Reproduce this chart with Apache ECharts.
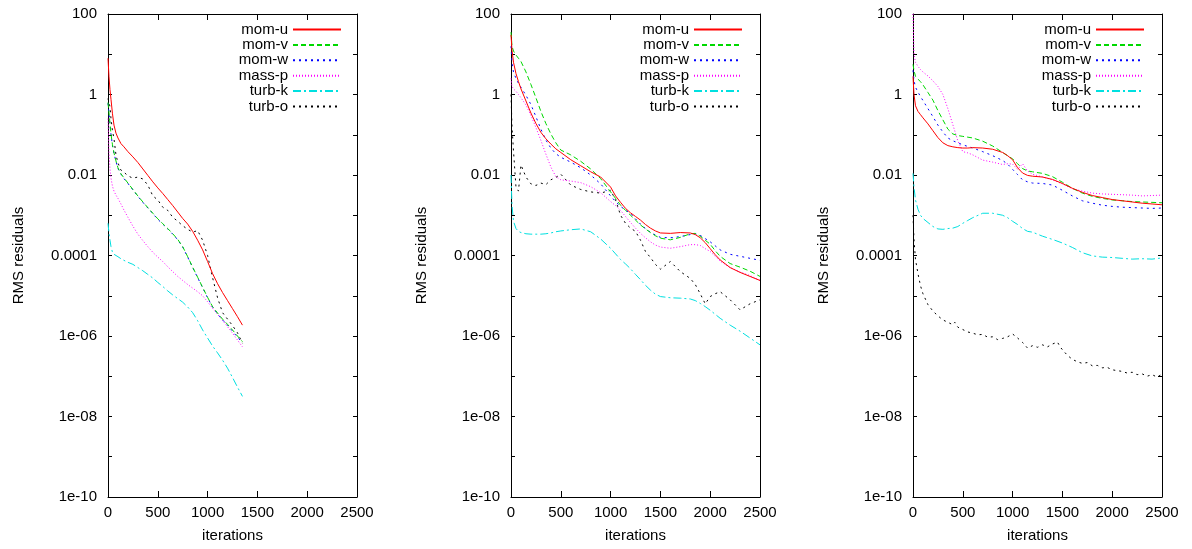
<!DOCTYPE html>
<html>
<head>
<meta charset="utf-8">
<script src="https://cdn.jsdelivr.net/npm/echarts@6/dist/echarts.min.js"></script>
<style>
html,body{margin:0;padding:0;background:#fff;}
#chart{width:1192px;height:549px;}
</style>
</head>
<body>
<div id="chart"></div>
<script>
// ---- DATA (residual values stored as log10 of the RMS residual) ----
const seriesNames = ['mom-u', 'mom-v', 'mom-w', 'mass-p', 'turb-k', 'turb-o'];
const xTicks = [0, 500, 1000, 1500, 2000, 2500];
const yTickExponents = [2, 0, -2, -4, -6, -8, -10];
const yTickLabels = ['100', '1', '0.01', '0.0001', '1e-06', '1e-08', '1e-10'];

// Panel 1
const it1 = [0,10,20,30,45,60,80,100,130,160,200,250,300,350,400,450,500,550,600,650,700,750,800,850,900,950,1000,1050,1100,1150,1200,1250,1300,1350];
const p1_momU  = [0.9,0.44,0.12,-0.12,-0.48,-0.76,-0.96,-1.08,-1.22,-1.30,-1.42,-1.55,-1.69,-1.85,-2.01,-2.17,-2.32,-2.46,-2.61,-2.76,-2.92,-3.08,-3.22,-3.40,-3.62,-3.86,-4.15,-4.45,-4.70,-4.92,-5.12,-5.32,-5.52,-5.73];
const p1_momV  = [-0.2,-0.45,-0.72,-0.98,-1.25,-1.45,-1.65,-1.82,-1.97,-2.07,-2.20,-2.36,-2.52,-2.67,-2.81,-2.95,-3.09,-3.21,-3.33,-3.46,-3.60,-3.78,-4.03,-4.29,-4.54,-4.79,-5.04,-5.27,-5.43,-5.58,-5.71,-5.85,-6.00,-6.14];
const p1_momW  = [-0.22,-0.48,-0.74,-0.99,-1.27,-1.46,-1.66,-1.84,-1.98,-2.09,-2.21,-2.37,-2.53,-2.68,-2.82,-2.96,-3.10,-3.22,-3.34,-3.47,-3.61,-3.79,-4.04,-4.30,-4.55,-4.80,-5.05,-5.28,-5.45,-5.60,-5.73,-5.88,-6.03,-6.17];
const p1_massP = [-0.6,-1.45,-1.85,-2.08,-2.28,-2.40,-2.50,-2.58,-2.72,-2.87,-3.05,-3.27,-3.47,-3.63,-3.78,-3.92,-4.04,-4.15,-4.28,-4.40,-4.52,-4.62,-4.72,-4.81,-4.90,-5.00,-5.15,-5.31,-5.46,-5.61,-5.77,-5.93,-6.10,-6.27];
const p1_turbK = [-3.2,-3.45,-3.62,-3.78,-3.92,-3.97,-4.0,-4.03,-4.08,-4.12,-4.17,-4.22,-4.30,-4.38,-4.47,-4.56,-4.67,-4.77,-4.88,-4.98,-5.07,-5.16,-5.28,-5.42,-5.62,-5.85,-6.05,-6.25,-6.42,-6.60,-6.80,-7.03,-7.27,-7.50];
const p1_turbO = [-0.1,-0.2,-0.3,-0.6,-0.9,-1.1,-1.5,-1.7,-1.88,-1.93,-2.02,-2.08,-2.05,-2.10,-2.25,-2.52,-2.62,-2.80,-2.88,-3.05,-3.15,-3.26,-3.35,-3.42,-3.38,-3.62,-4.00,-4.55,-5.05,-5.42,-5.58,-5.74,-5.92,-6.18];

// Panel 2
const it2 = [0,10,25,50,75,100,150,200,250,300,350,400,450,500,600,700,800,900,1000,1050,1100,1150,1200,1250,1300,1350,1400,1450,1500,1600,1700,1800,1850,1900,1950,2000,2050,2100,2200,2300,2400,2500];
const p2_momU  = [1.48,1.1,0.8,0.52,0.32,0.14,-0.16,-0.46,-0.72,-0.94,-1.10,-1.23,-1.35,-1.44,-1.62,-1.77,-1.92,-2.05,-2.30,-2.52,-2.68,-2.83,-2.94,-3.03,-3.12,-3.23,-3.32,-3.39,-3.44,-3.45,-3.43,-3.44,-3.48,-3.56,-3.68,-3.83,-3.98,-4.11,-4.30,-4.42,-4.52,-4.62];
const p2_momV  = [1.55,1.2,1.08,0.98,0.9,0.82,0.56,0.25,-0.08,-0.42,-0.72,-0.98,-1.20,-1.38,-1.50,-1.66,-1.85,-2.09,-2.42,-2.58,-2.75,-2.88,-3.00,-3.12,-3.24,-3.34,-3.43,-3.51,-3.57,-3.61,-3.55,-3.46,-3.45,-3.52,-3.62,-3.72,-3.88,-4.02,-4.20,-4.29,-4.39,-4.52];
const p2_momW  = [1.2,0.78,0.56,0.40,0.28,0.18,-0.02,-0.25,-0.55,-0.86,-1.13,-1.33,-1.47,-1.56,-1.68,-1.82,-2.0,-2.22,-2.52,-2.66,-2.78,-2.87,-2.96,-3.09,-3.22,-3.33,-3.42,-3.49,-3.55,-3.56,-3.53,-3.48,-3.46,-3.50,-3.58,-3.66,-3.76,-3.86,-3.97,-4.02,-4.07,-4.12];
const p2_massP = [0.4,0.2,0.14,0.08,0.0,-0.08,-0.26,-0.52,-0.82,-1.14,-1.48,-1.80,-2.04,-2.12,-2.15,-2.19,-2.29,-2.44,-2.66,-2.76,-2.88,-3.03,-3.18,-3.32,-3.45,-3.56,-3.66,-3.74,-3.79,-3.82,-3.78,-3.73,-3.73,-3.75,-3.83,-3.90,-4.02,-4.14,-4.30,-4.41,-4.50,-4.62];
const p2_turbK = [-2.0,-2.75,-3.15,-3.33,-3.40,-3.43,-3.46,-3.47,-3.47,-3.47,-3.46,-3.44,-3.41,-3.39,-3.36,-3.34,-3.41,-3.59,-3.82,-3.96,-4.10,-4.21,-4.33,-4.47,-4.60,-4.74,-4.86,-4.96,-5.02,-5.05,-5.06,-5.08,-5.12,-5.19,-5.27,-5.36,-5.46,-5.56,-5.73,-5.88,-6.05,-6.22];
const p2_turbO = [0.0,-0.8,-1.4,-2.3,-2.4,-1.75,-2.05,-2.22,-2.26,-2.20,-2.24,-2.12,-2.06,-1.98,-2.25,-2.36,-2.42,-2.45,-2.38,-2.62,-3.00,-3.20,-3.32,-3.40,-3.62,-3.90,-4.05,-4.22,-4.34,-4.15,-4.40,-4.57,-4.72,-4.95,-5.20,-5.02,-4.95,-4.90,-5.10,-5.35,-5.20,-5.10];

// Panel 3
const it3 = [0,10,25,50,75,100,150,200,250,300,350,400,450,500,550,600,700,800,900,950,1000,1050,1100,1150,1200,1300,1400,1500,1600,1700,1800,1900,2000,2100,2200,2300,2400,2500];
const p3_momU  = [0.45,0.0,-0.28,-0.42,-0.50,-0.58,-0.73,-0.90,-1.07,-1.20,-1.27,-1.30,-1.32,-1.33,-1.33,-1.32,-1.33,-1.36,-1.44,-1.52,-1.62,-1.82,-1.95,-2.01,-2.03,-2.05,-2.11,-2.21,-2.33,-2.43,-2.51,-2.56,-2.61,-2.64,-2.67,-2.70,-2.72,-2.74];
const p3_momV  = [0.75,0.6,0.45,0.38,0.32,0.24,0.05,-0.14,-0.40,-0.63,-0.86,-0.98,-1.02,-1.04,-1.06,-1.08,-1.16,-1.28,-1.44,-1.52,-1.60,-1.72,-1.84,-1.90,-1.92,-1.96,-2.04,-2.18,-2.33,-2.45,-2.53,-2.58,-2.62,-2.64,-2.66,-2.67,-2.68,-2.69];
const p3_momW  = [0.6,0.35,0.18,0.06,-0.05,-0.15,-0.35,-0.55,-0.76,-0.93,-1.08,-1.15,-1.20,-1.25,-1.29,-1.33,-1.42,-1.52,-1.64,-1.73,-1.86,-1.99,-2.12,-2.17,-2.20,-2.21,-2.25,-2.38,-2.52,-2.64,-2.70,-2.75,-2.78,-2.80,-2.81,-2.82,-2.83,-2.82];
const p3_massP = [2.0,1.0,0.8,0.7,0.62,0.56,0.46,0.34,0.2,0.0,-0.35,-0.75,-1.15,-1.42,-1.45,-1.50,-1.63,-1.68,-1.74,-1.72,-1.73,-1.86,-1.72,-1.90,-1.98,-2.05,-2.12,-2.22,-2.34,-2.40,-2.45,-2.47,-2.48,-2.49,-2.50,-2.52,-2.51,-2.50];
const p3_turbK = [-1.96,-2.3,-2.62,-2.85,-3.0,-3.08,-3.18,-3.28,-3.34,-3.35,-3.33,-3.32,-3.28,-3.2,-3.13,-3.06,-2.95,-2.95,-3.0,-3.06,-3.15,-3.23,-3.33,-3.40,-3.42,-3.52,-3.60,-3.69,-3.80,-3.93,-4.01,-4.04,-4.05,-4.07,-4.09,-4.08,-4.09,-4.06];
// turb-o in panel 3 is noisy, so it is read on a finer grid of its own
const it3o = [0,10,25,50,75,100,150,200,250,300,350,400,420,450,500,550,600,650,700,750,800,850,900,950,1000,1050,1100,1150,1200,1250,1300,1350,1400,1450,1480,1500,1550,1600,1650,1700,1750,1800,1850,1900,1950,2000,2050,2100,2150,2200,2250,2300,2350,2400,2450,2500];
const p3_turbO = [-3.0,-3.6,-4.1,-4.45,-4.75,-4.95,-5.22,-5.38,-5.50,-5.60,-5.66,-5.72,-5.66,-5.78,-5.84,-5.90,-5.93,-5.97,-5.96,-6.03,-6.02,-6.09,-6.06,-6.02,-5.95,-6.05,-6.16,-6.30,-6.24,-6.28,-6.22,-6.27,-6.20,-6.15,-6.28,-6.34,-6.48,-6.58,-6.64,-6.68,-6.66,-6.74,-6.73,-6.79,-6.78,-6.84,-6.86,-6.88,-6.92,-6.90,-6.96,-6.94,-7.00,-6.96,-7.02,-6.95];

const panels = [
  { its: [it1, it1, it1, it1, it1, it1], data: [p1_momU, p1_momV, p1_momW, p1_massP, p1_turbK, p1_turbO] },
  { its: [it2, it2, it2, it2, it2, it2], data: [p2_momU, p2_momV, p2_momW, p2_massP, p2_turbK, p2_turbO] },
  { its: [it3, it3, it3, it3, it3, it3o], data: [p3_momU, p3_momV, p3_momW, p3_massP, p3_turbK, p3_turbO] }
];

// ---- STYLE ----
const lineStyles = [
  { color: '#ff0000', type: 'solid' },
  { color: '#00d800', type: [5, 3] },
  { color: '#0000ff', type: [2, 4] },
  { color: '#ff00ff', type: [1, 2] },
  { color: '#00e0e0', type: [8, 3, 2, 3] },
  { color: '#000000', type: [2, 4] }
];
const gridLefts = [108, 511, 913];
const plotWidth = 249;
const legendRights = [852, 451, 49];
const FONT = 'Liberation Sans, Arial, Helvetica, sans-serif';

function pairs(its, logs) { return its.map((x, i) => [x, Math.pow(10, logs[i])]); }
function yLabel(v) {
  const e = Math.round(Math.log10(v));
  const k = yTickExponents.indexOf(e);
  return k >= 0 ? yTickLabels[k] : '';
}

const grid = [], xAxis = [], yAxis = [], series = [], legend = [];
panels.forEach((p, g) => {
  grid.push({ left: gridLefts[g], width: plotWidth, top: 14, bottom: 52, show: false });
  const xBase = { gridIndex: g, type: 'value', min: xTicks[0], max: xTicks[xTicks.length - 1], interval: xTicks[1] - xTicks[0],
    axisLine: { show: true, onZero: false, lineStyle: { color: '#000', width: 1 } },
    axisTick: { show: true, inside: true, length: 6, lineStyle: { color: '#000' } },
    splitLine: { show: false } };
  xAxis.push(Object.assign({}, xBase, { position: 'bottom',
    name: 'iterations', nameLocation: 'middle', nameGap: 31,
    nameTextStyle: { fontFamily: FONT, fontSize: 15, color: '#000' },
    axisLabel: { show: true, margin: 8, fontFamily: FONT, fontSize: 15, color: '#000', formatter: v => String(v) } }));
  xAxis.push(Object.assign({}, xBase, { position: 'top', axisLabel: { show: false } }));
  const yBase = { gridIndex: g, type: 'log', logBase: 10, min: 1e-10, max: 100, interval: 1,
    axisLine: { show: true, onZero: false, lineStyle: { color: '#000', width: 1 } },
    axisTick: { show: true, inside: true, length: 4, lineStyle: { color: '#000' } },
    splitLine: { show: false }, minorTick: { show: false } };
  yAxis.push(Object.assign({}, yBase, { position: 'left',
    name: 'RMS residuals', nameLocation: 'middle', nameGap: 82, nameRotate: 90,
    nameTextStyle: { fontFamily: FONT, fontSize: 15, color: '#000' },
    axisLabel: { show: true, margin: 11, fontFamily: FONT, fontSize: 15, color: '#000', formatter: yLabel } }));
  yAxis.push(Object.assign({}, yBase, { position: 'right', axisLabel: { show: false } }));

  p.data.forEach((d, s) => {
    series.push({
      name: seriesNames[s], type: 'line', xAxisIndex: 2 * g, yAxisIndex: 2 * g,
      data: pairs(p.its[s], d), showSymbol: false, symbol: 'none', smooth: false,
      lineStyle: { color: lineStyles[s].color, type: lineStyles[s].type, width: 1 },
      itemStyle: { color: lineStyles[s].color },
      z: 10 - s, animation: false
    });
  });

  legend.push({
    show: true, orient: 'vertical', align: 'right', right: legendRights[g] - 7, top: 17,
    itemWidth: 48, itemHeight: 14, itemGap: 0.4,
    data: seriesNames.map(n => ({ name: n })),
    itemStyle: { opacity: 0 },
    lineStyle: { opacity: 1 },
    textStyle: { fontFamily: FONT, fontSize: 15, lineHeight: 14, color: '#000' },
    selectedMode: false
  });
});

const chart = echarts.init(document.getElementById('chart'), null, { renderer: 'canvas' });
chart.setOption({
  backgroundColor: '#ffffff',
  animation: false,
  grid, xAxis, yAxis, series, legend
});
</script>
</body>
</html>
